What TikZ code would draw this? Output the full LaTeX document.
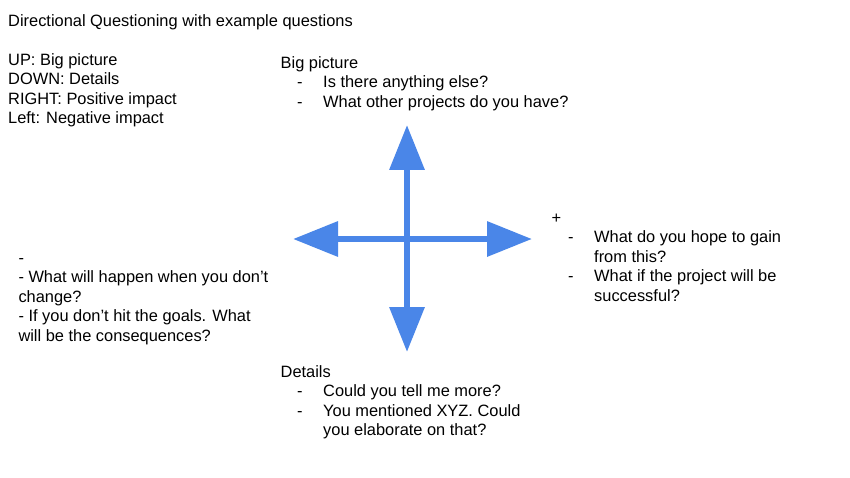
\documentclass[tikz,border=0pt]{standalone}
\usepackage{fontspec}
\setmainfont{Liberation Sans}
\usetikzlibrary{arrows.meta}
\definecolor{arrowblue}{RGB}{74,134,232}
\newcommand{\bul}{\makebox[42.5pt][l]{\hspace{16.5pt}-}}
\newcommand{\cont}{\hspace*{42.5pt}}

\begin{document}
\begin{tikzpicture}[x=1pt,y=-1pt,
    txt/.style={anchor=base west, inner sep=0pt, font=\fontsize{16.4}{19.5}\selectfont},
    bigarrow/.style={arrowblue, line width=6.5pt, -{Triangle[length=45pt,width=34pt]}}]
    \useasboundingbox[fill=white] (0,0) rectangle (850,478);

    % legend
    \node[txt] (legend) at (8,26.5) {\begin{tabular}[t]{@{}l@{}}
      Directional Questioning with example questions\\[19.5pt]
      UP: Big picture\\
      DOWN: Details\\
      RIGHT: Positive impact\\
      Left: Negative impact
    \end{tabular}};

    % the four directions
    \node[txt] (bigpic) at (280.5,68.3) {\begin{tabular}[t]{@{}l@{}}
      Big picture\\
      \bul Is there anything else?\\
      \bul What other projects do you have?
    \end{tabular}};
    \node[txt] (details) at (280.5,377.3) {\begin{tabular}[t]{@{}l@{}}
      Details\\
      \bul Could you tell me more?\\
      \bul You mentioned XYZ. Could\\
      \cont you elaborate on that?
    \end{tabular}};
    \node[txt] (positive) at (551.5,223) {\begin{tabular}[t]{@{}l@{}}
      +\\
      \bul What do you hope to gain\\
      \cont from this?\\
      \bul What if the project will be\\
      \cont successful?
    \end{tabular}};
    \node[txt] (negative) at (18.3,263) {\begin{tabular}[t]{@{}l@{}}
      -\\
      - What will happen when you don’t\\
      change?\\
      - If you don’t hit the goals. What\\
      will be the consequences?
    \end{tabular}};

    % cross of arrows
    \coordinate (hub) at (407,239);
    \coordinate (ptup) at (407,125);
    \coordinate (ptdown) at (407,352);
    \coordinate (ptleft) at (293,239);
    \coordinate (ptright) at (532,239);
    \draw[bigarrow] (hub) -- (ptup);
    \draw[bigarrow] (hub) -- (ptdown);
    \draw[bigarrow] (hub) -- (ptleft);
    \draw[bigarrow] (hub) -- (ptright);
\end{tikzpicture}
\end{document}
